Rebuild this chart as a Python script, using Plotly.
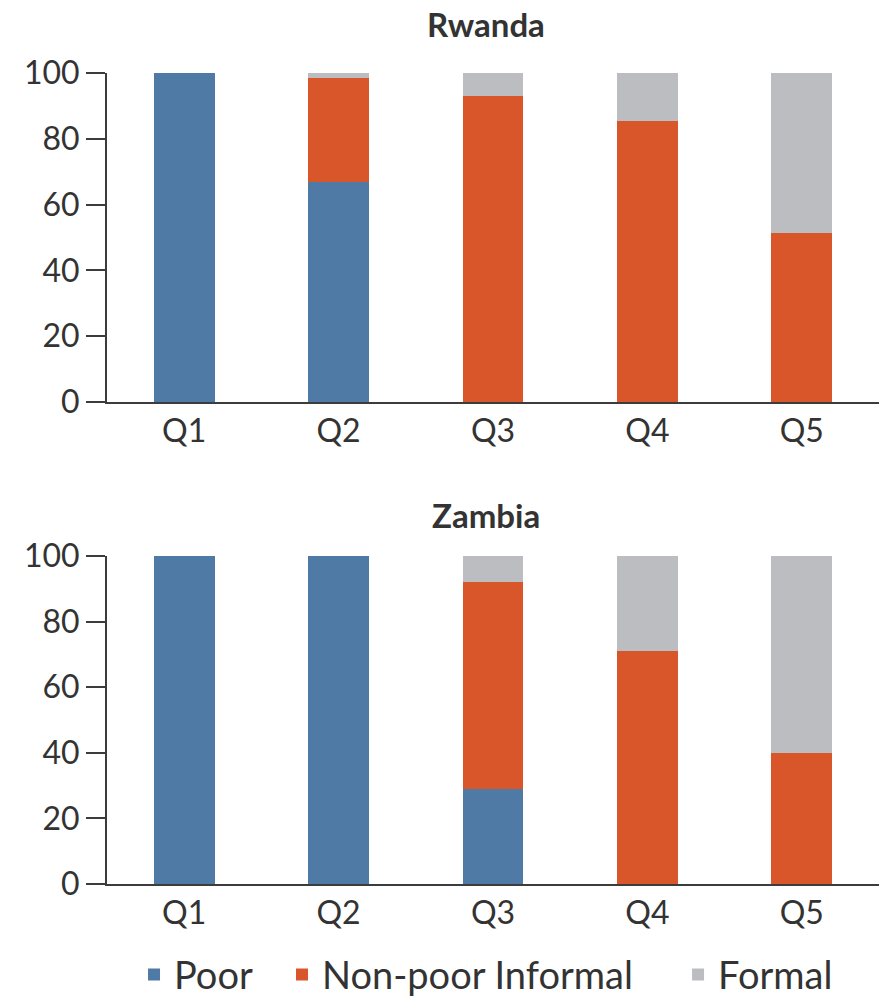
import plotly.graph_objects as go

# Consumption quintiles
quintiles = ["Q1", "Q2", "Q3", "Q4", "Q5"]

# Share of workers (%) by status, Rwanda
rwanda_poor = [100, 67, 0, 0, 0]
rwanda_nonpoor_informal = [0, 31.5, 93, 85.5, 51.5]
rwanda_formal = [0, 1.5, 7, 14.5, 48.5]

# Share of workers (%) by status, Zambia
zambia_poor = [100, 100, 29, 0, 0]
zambia_nonpoor_informal = [0, 0, 63, 71, 40]
zambia_formal = [0, 0, 8, 29, 60]

series_names = ["Poor", "Non-poor Informal", "Formal"]
series_colors = ["#4f7aa6", "#d9552a", "#bcbdc1"]
panel_titles = ["Rwanda", "Zambia"]

FONT = "Lato, 'Open Sans', sans-serif"
TEXT = "#333333"
AXIS = "#3c3c3c"

# one legend box per series so each entry sits at its own spot
legend_ids = ["legend", "legend2", "legend3"]
legend_x = [0.035, 0.2267, 0.7397]

fig = go.Figure()

panels = [
    ("x", "y", [rwanda_poor, rwanda_nonpoor_informal, rwanda_formal]),
    ("x2", "y2", [zambia_poor, zambia_nonpoor_informal, zambia_formal]),
]
for p, (xa, ya, values) in enumerate(panels):
    for name, color, vals, lg in zip(series_names, series_colors, values, legend_ids):
        fig.add_trace(go.Bar(
            x=quintiles, y=vals, name=name,
            marker=dict(color=color, line=dict(width=0)),
            width=0.395, xaxis=xa, yaxis=ya,
            showlegend=(p == 0), legendgroup=name, legend=lg,
        ))

axis_common = dict(
    showline=True, linecolor=AXIS, linewidth=2,
    showgrid=False, zeroline=False,
    tickfont=dict(family=FONT, size=32, color=TEXT),
)

legend_style = dict(
    orientation="h", xanchor="left", y=-0.112, yanchor="middle",
    font=dict(family=FONT, size=38, color=TEXT),
    itemclick=False, itemdoubleclick=False, bgcolor="rgba(0,0,0,0)",
)

fig.update_layout(
    width=882, height=1002,
    margin=dict(l=107, r=3, t=73, b=118, autoexpand=False),
    paper_bgcolor="white", plot_bgcolor="white",
    barmode="stack",
    font=dict(family=FONT, color=TEXT),
    xaxis=dict(domain=[0, 1], anchor="y", ticks="", ticklen=0,
               range=[-0.5, 4.5], **axis_common),
    yaxis=dict(domain=[0.5943, 1.0], anchor="x", range=[0, 100],
               tickvals=[0, 20, 40, 60, 80, 100], ticks="outside",
               ticklen=19, tickwidth=2, tickcolor=AXIS, **axis_common),
    xaxis2=dict(domain=[0, 1], anchor="y2", ticks="", ticklen=0,
                range=[-0.5, 4.5], **axis_common),
    yaxis2=dict(domain=[0.0, 0.4044], anchor="x2", range=[0, 100],
                tickvals=[0, 20, 40, 60, 80, 100], ticks="outside",
                ticklen=19, tickwidth=2, tickcolor=AXIS, **axis_common),
    legend=dict(x=legend_x[0], **legend_style),
    legend2=dict(x=legend_x[1], **legend_style),
    legend3=dict(x=legend_x[2], **legend_style),
    annotations=[
        dict(text="<b>%s</b>" % panel_titles[0], xref="paper", yref="paper",
             x=0.491, y=1.0604, xanchor="center", yanchor="middle",
             showarrow=False, font=dict(family=FONT, size=33, color=TEXT)),
        dict(text="<b>%s</b>" % panel_titles[1], xref="paper", yref="paper",
             x=0.491, y=0.455, xanchor="center", yanchor="middle",
             showarrow=False, font=dict(family=FONT, size=33, color=TEXT)),
    ],
    bargap=0.6,
)

fig.write_html("out.html")
